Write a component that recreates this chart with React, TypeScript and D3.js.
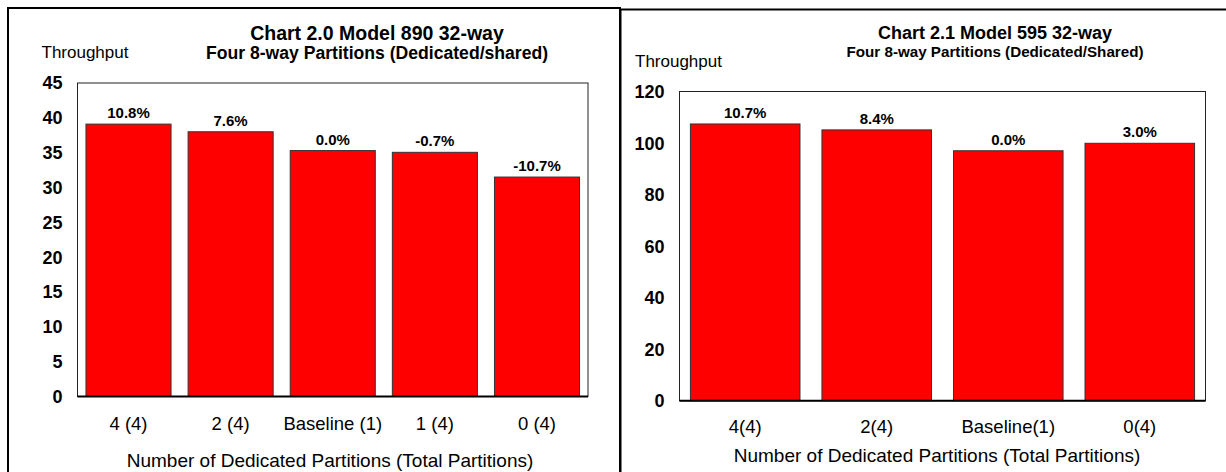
import React from "react";
import * as d3 from "d3";

// Chart 2.0 — Model 890
const leftCategories = ["4 (4)", "2 (4)", "Baseline (1)", "1 (4)", "0 (4)"];
const leftValues = [39.1, 38.0, 35.3, 35.05, 31.5];
const leftLabels = ["10.8%", "7.6%", "0.0%", "-0.7%", "-10.7%"];
const leftTicks = [0, 5, 10, 15, 20, 25, 30, 35, 40, 45];

// Chart 2.1 — Model 595
const rightCategories = ["4(4)", "2(4)", "Baseline(1)", "0(4)"];
const rightValues = [107.4, 105.1, 97.0, 99.9];
const rightLabels = ["10.7%", "8.4%", "0.0%", "3.0%"];
const rightTicks = [0, 20, 40, 60, 80, 100, 120];

const FONT = "'Liberation Sans', Arial, Helvetica, sans-serif";
const W = 1226;
const H = 472;

type PanelProps = {
  categories: string[];
  values: number[];
  labels: string[];
  ticks: number[];
  title: string;
  subtitle: string;
  plot: { x0: number; x1: number; y0: number; y1: number };
  titleX: number;
  titleY: number;
  titleSize: number;
  subtitleY: number;
  subtitleSize: number;
  yTitleX: number;
  yTitleY: number;
  catY: number;
  xTitleX: number;
  xTitleY: number;
};

function BarPanel(p: PanelProps) {
  const { x0, x1, y0, y1 } = p.plot;
  const x = d3
    .scaleBand<string>()
    .domain(p.categories)
    .range([x0, x1])
    .paddingInner(0.167)
    .paddingOuter(0.083);
  const y = d3
    .scaleLinear()
    .domain([0, d3.max(p.ticks) as number])
    .range([y1, y0]);

  return (
    <g>
      {/* plot frame */}
      <rect
        x={x0}
        y={y0}
        width={x1 - x0}
        height={y1 - y0}
        fill="#fff"
        stroke="#222"
        strokeWidth={1}
      />
      {/* bars */}
      {p.categories.map((c, i) => (
        <rect
          key={c}
          x={x(c)}
          y={y(p.values[i])}
          width={x.bandwidth()}
          height={y(0) - y(p.values[i])}
          fill="#ff0000"
          stroke="#333"
          strokeWidth={1}
        />
      ))}
      {/* value labels */}
      {p.categories.map((c, i) => (
        <text
          key={c + "-lbl"}
          x={(x(c) as number) + x.bandwidth() / 2}
          y={y(p.values[i]) - 6}
          textAnchor="middle"
          fontFamily={FONT}
          fontWeight="bold"
          fontSize={15}
          fill="#000"
        >
          {p.labels[i]}
        </text>
      ))}
      {/* x axis line */}
      <line x1={x0} x2={x1} y1={y(0)} y2={y(0)} stroke="#000" strokeWidth={2} />
      {/* y tick labels */}
      {p.ticks.map((t) => (
        <text
          key={"t" + t}
          x={x0 - 15}
          y={y(t)}
          dy="0.36em"
          textAnchor="end"
          fontFamily={FONT}
          fontWeight="bold"
          fontSize={18}
          fill="#000"
        >
          {t}
        </text>
      ))}
      {/* category labels */}
      {p.categories.map((c) => (
        <text
          key={c + "-cat"}
          x={(x(c) as number) + x.bandwidth() / 2}
          y={p.catY}
          textAnchor="middle"
          fontFamily={FONT}
          fontSize={18.5}
          fill="#000"
        >
          {c}
        </text>
      ))}
      {/* titles */}
      <text
        x={p.titleX}
        y={p.titleY}
        textAnchor="middle"
        fontFamily={FONT}
        fontWeight="bold"
        fontSize={p.titleSize}
        fill="#000"
      >
        {p.title}
      </text>
      <text
        x={p.titleX}
        y={p.subtitleY}
        textAnchor="middle"
        fontFamily={FONT}
        fontWeight="bold"
        fontSize={p.subtitleSize}
        fill="#000"
      >
        {p.subtitle}
      </text>
      <text x={p.yTitleX} y={p.yTitleY} fontFamily={FONT} fontSize={17} fill="#000">
        Throughput
      </text>
      <text
        x={p.xTitleX}
        y={p.xTitleY}
        textAnchor="middle"
        fontFamily={FONT}
        fontSize={19}
        fill="#000"
      >
        Number of Dedicated Partitions (Total Partitions)
      </text>
    </g>
  );
}

export default function App() {
  return (
    <svg
      width={W}
      height={H}
      viewBox={`0 0 ${W} ${H}`}
      style={{ position: "absolute", left: 0, top: 0, background: "#fff" }}
    >
      <rect x={0} y={0} width={W} height={H} fill="#fff" />
      {/* panel outlines */}
      <rect x={8} y={8} width={612} height={H + 20} fill="none" stroke="#000" strokeWidth={2} />
      <rect x={620.5} y={9.5} width={W + 20} height={H + 20} fill="none" stroke="#000" strokeWidth={2} />

      <BarPanel
        categories={leftCategories}
        values={leftValues}
        labels={leftLabels}
        ticks={leftTicks}
        title="Chart 2.0 Model 890 32-way"
        subtitle="Four 8-way Partitions (Dedicated/shared)"
        plot={{ x0: 77.5, x1: 588, y0: 83, y1: 396.5 }}
        titleX={377}
        titleY={40}
        titleSize={19.5}
        subtitleY={58.5}
        subtitleSize={17.6}
        yTitleX={41.5}
        yTitleY={58.3}
        catY={430}
        xTitleX={330}
        xTitleY={467}
      />
      <BarPanel
        categories={rightCategories}
        values={rightValues}
        labels={rightLabels}
        ticks={rightTicks}
        title="Chart 2.1 Model 595 32-way"
        subtitle="Four 8-way Partitions (Dedicated/Shared)"
        plot={{ x0: 679.5, x1: 1205.5, y0: 91.5, y1: 400.7 }}
        titleX={995}
        titleY={38.5}
        titleSize={18}
        subtitleY={57}
        subtitleSize={15.2}
        yTitleX={635}
        yTitleY={66.7}
        catY={433}
        xTitleX={937}
        xTitleY={461.7}
      />
    </svg>
  );
}
